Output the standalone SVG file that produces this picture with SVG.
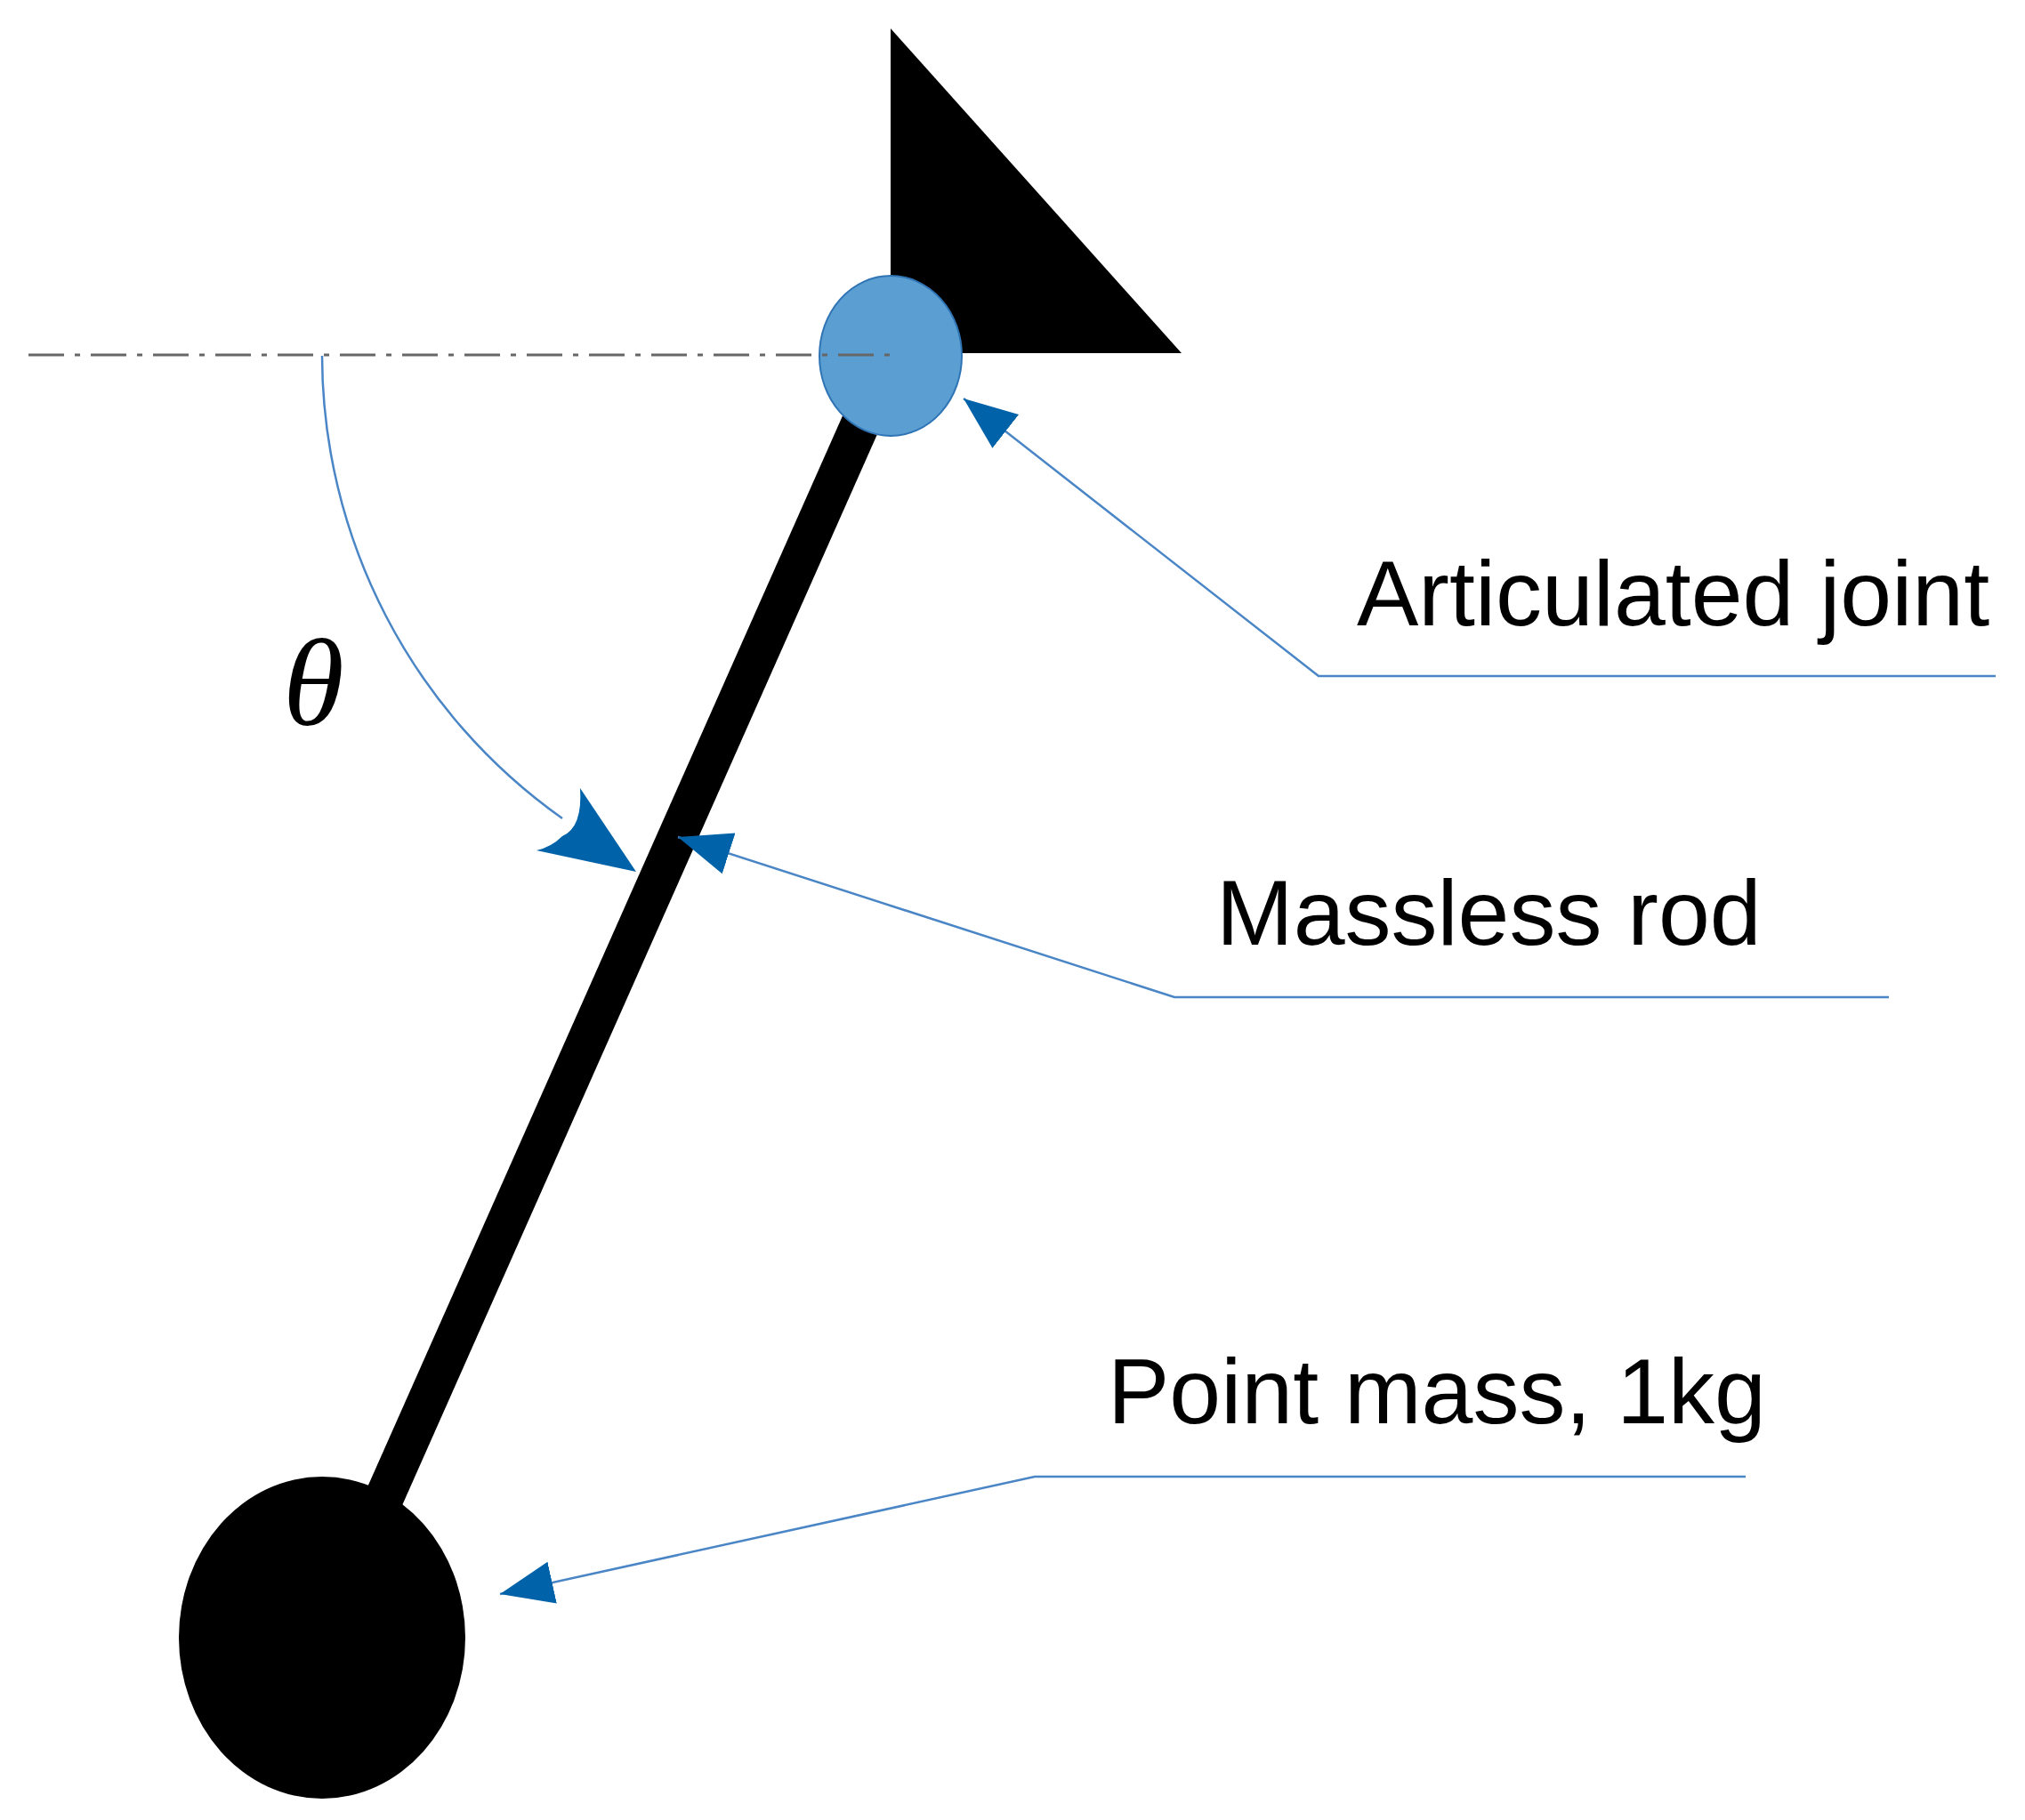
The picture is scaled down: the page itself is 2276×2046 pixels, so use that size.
<svg xmlns="http://www.w3.org/2000/svg" width="2276" height="2046" viewBox="0 0 2276 2046">
<style>
.lead{fill:none;stroke:#4a86c6;stroke-width:2.5}
.lbl{font-family:"Liberation Sans",Arial,sans-serif;font-size:104px;fill:#000}
</style>
<defs>
<marker id="ah" markerUnits="userSpaceOnUse" markerWidth="64" markerHeight="50" refX="60" refY="24" orient="auto-start-reverse">
<path d="M0,0 L60,24 L0,48 Z" fill="#0062a8"/>
</marker>
</defs>
<rect width="2276" height="2046" fill="#fff"/>
<g id="support"><polygon points="1001,32 1001,397 1328,397" fill="#000"/></g>
<g id="rod"><line x1="1001" y1="400" x2="362" y2="1841" stroke="#000" stroke-width="44"/></g>
<g id="joint"><ellipse cx="1001" cy="400" rx="80" ry="90" fill="#5b9fd2" stroke="#2f74b5" stroke-width="2"/></g>
<g id="axis"><line x1="32" y1="399" x2="1001" y2="399" stroke="#666" stroke-width="3" stroke-dasharray="40,12,6,12"/></g>
<g id="mass"><ellipse cx="362" cy="1841" rx="161" ry="181" fill="#000"/></g>
<g id="theta">
<path class="lead" d="M362,400 A639,639 0 0,0 632,920"/>
<path d="M715,980 L652,886 Q655,930 632,940 Q620,952 603,956 Z" fill="#0062a8"/>
<text x="318" y="815" font-family="'Liberation Serif','DejaVu Serif',serif" font-style="italic" font-size="140">θ</text>
</g>
<g id="connectors">
<polyline class="lead" points="2243,760 1482,760 1083,448" marker-end="url(#ah)"/>
<polyline class="lead" points="2123,1121 1320,1121 762,941" marker-end="url(#ah)"/>
<polyline class="lead" points="1962,1660 1163,1660 562,1792" marker-end="url(#ah)"/>
</g>
<g id="labels">
<text class="lbl" x="1525" y="703">Articulated joint</text>
<text class="lbl" x="1367" y="1062">Massless rod</text>
<text class="lbl" x="1245" y="1600">Point mass, 1kg</text>
</g>
</svg>
